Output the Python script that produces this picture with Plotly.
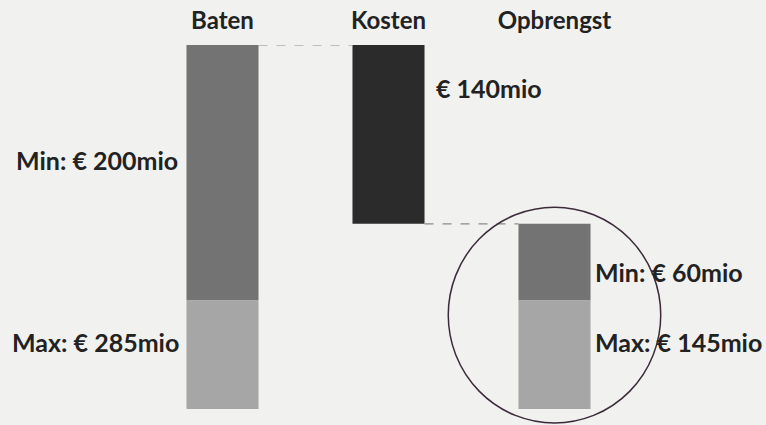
import plotly.graph_objects as go

# ---- data ----
categories = ["Baten", "Kosten", "Opbrengst"]
baten_min = 200
baten_max = 285
kosten = 140
opbrengst_min = 60
opbrengst_max = 145

label_baten_min = f"Min: € {baten_min}mio"
label_baten_max = f"Max: € {baten_max}mio"
label_kosten = f"€ {kosten}mio"
label_opb_min = f"Min: € {opbrengst_min}mio"
label_opb_max = f"Max: € {opbrengst_max}mio"

# ---- style ----
BG = "#f1f1ef"
TXT = "#222222"
FONT = "Lato"
BW = 0.434  # bar width (category units)

c_min = "#737373"
c_max = "#a6a6a6"
c_kost = "#2b2b2b"

fig = go.Figure()

# Min segments (depth measured from the top)
fig.add_trace(go.Bar(
    x=[categories[0], categories[2]],
    y=[baten_min, opbrengst_min],
    base=[0, kosten],
    marker=dict(color=c_min, line=dict(width=0)),
    width=BW, showlegend=False, hoverinfo="skip"))
# Max extra segments
fig.add_trace(go.Bar(
    x=[categories[0], categories[2]],
    y=[baten_max - baten_min, opbrengst_max - opbrengst_min],
    base=[baten_min, baten_min],
    marker=dict(color=c_max, line=dict(width=0)),
    width=BW, showlegend=False, hoverinfo="skip"))
# Kosten
fig.add_trace(go.Bar(
    x=[categories[1]], y=[kosten], base=[0],
    marker=dict(color=c_kost, line=dict(width=0)),
    width=BW, showlegend=False, hoverinfo="skip"))

# connectors
fig.add_shape(type="line", xref="x", yref="y",
              x0=0 + BW / 2, x1=1 - BW / 2, y0=0, y1=0,
              line=dict(color="#8a8a8a", width=1.2, dash="dash"))
fig.add_shape(type="line", xref="x", yref="y",
              x0=1 + BW / 2, x1=2 - BW / 2, y0=kosten, y1=kosten,
              line=dict(color="#8a8a8a", width=1.2, dash="dash"))

# circle around Opbrengst
fig.add_shape(type="circle", xref="x", yref="y",
              x0=2 - 0.64, x1=2 + 0.64, y0=127, y1=296,
              line=dict(color="#3b2b3b", width=1.5))

lab_font = dict(family=FONT, size=25, color=TXT, weight="bold")
cat_font = dict(family=FONT, size=24, color=TXT, weight="bold")
ann = [
    (0 - BW / 2 - 0.04, baten_min * 0.45, label_baten_min, "right"),
    (0 - BW / 2 - 0.035, baten_min + (baten_max - baten_min) * 0.38, label_baten_max, "right"),
    (1 + BW / 2 + 0.06, kosten * 0.24, label_kosten, "left"),
    (2 + BW / 2 + 0.015, kosten + opbrengst_min * 0.63, label_opb_min, "left"),
    (2 + BW / 2 + 0.015, baten_min + (opbrengst_max - opbrengst_min) * 0.38, label_opb_max, "left"),
]
for x, y, t, xa in ann:
    fig.add_annotation(x=x, y=y, xref="x", yref="y", text=t, showarrow=False,
                       xanchor=xa, yanchor="middle", font=lab_font)

fig.update_layout(
    width=766, height=425,
    margin=dict(l=0, r=0, t=45, b=0),
    paper_bgcolor=BG, plot_bgcolor=BG,
    barmode="overlay",
    xaxis=dict(type="category", categoryorder="array", categoryarray=categories,
               side="top", range=[-222.5 / 166, (766 - 222.5) / 166],
               showgrid=False, zeroline=False, showline=False, ticks="",
               tickfont=cat_font, ticklabelstandoff=10),
    yaxis=dict(range=[(425 - 45) / 1.277, 0], showgrid=False, zeroline=False,
               showline=False, showticklabels=False, ticks=""),
)

fig.write_html("out.html",
               config={"displayModeBar": False},
               post_script="document.body.style.margin='0';document.body.style.overflow='hidden';")
